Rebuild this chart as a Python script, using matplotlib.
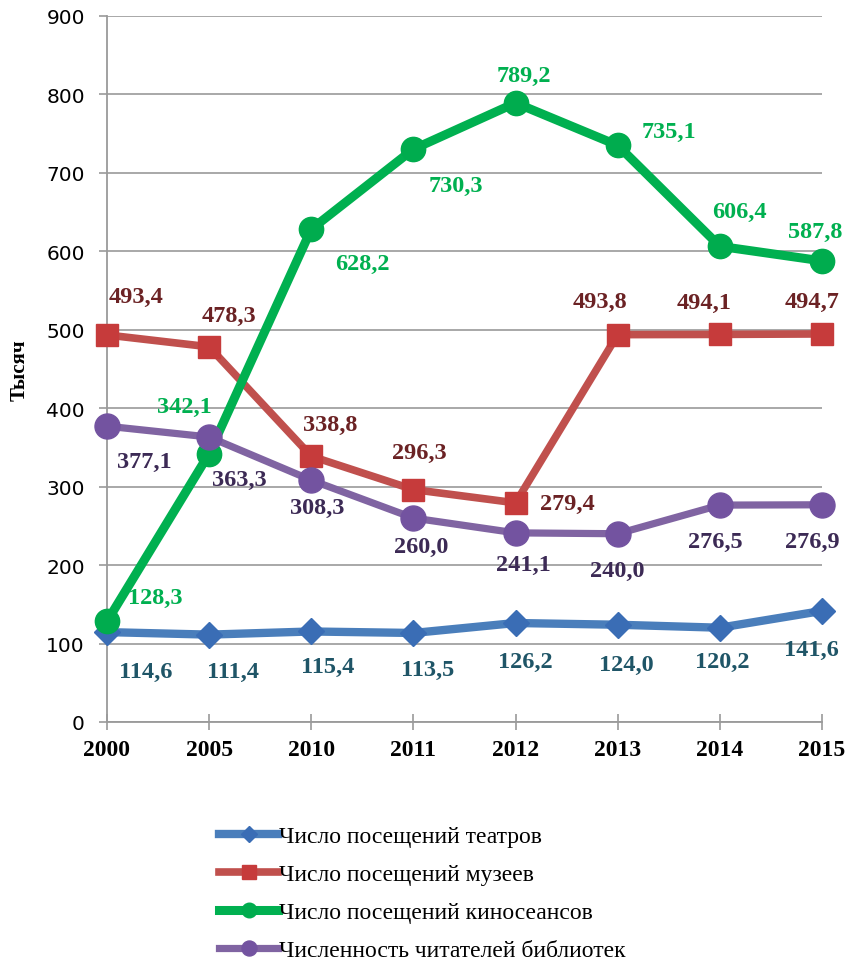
import numpy as np
import matplotlib.pyplot as plt
from matplotlib import rc

rc('font', family='DejaVu Sans')

years = ['2000', '2005', '2010', '2011', '2012', '2013', '2014', '2015']
theatres = [114.6, 111.4, 115.4, 113.5, 126.2, 124.0, 120.2, 141.6]
museums = [493.4, 478.3, 338.8, 296.3, 279.4, 493.8, 494.1, 494.7]
cinema = [128.3, 342.1, 628.2, 730.3, 789.2, 735.1, 606.4, 587.8]
libraries = [377.1, 363.3, 308.3, 260.0, 241.1, 240.0, 276.5, 276.9]
names = ['Число посещений театров', 'Число посещений музеев',
         'Число посещений киносеансов', 'Численность читателей библиотек']

# label offsets in pixels (dx, dy)
off_th = [(39, -39), (24, -37), (16, -35), (14, -36), (10, -38), (9, -40), (2, -34), (-11, -39)]
off_mu = [(29, 39), (20, 31), (19, 32), (6, 37), (52, -1), (-18, 33), (-16, 32), (-10, 32)]
off_ci = [(48, 24), (-25, 47), (51, -34), (42, -36), (8, 27), (51, 14), (20, 35), (-7, 29)]
off_li = [(37, -35), (30, -42), (6, -27), (8, -28), (8, -32), (0, -37), (-5, -36), (-10, -37)]

series = [
    (theatres, 'D', 13.7, 6.0, '#4A7EBB', '#3A6DB5', '#1F5567', off_th),
    (museums, 's', 16.5, 5.5, '#C0504D', '#C63B3B', '#6B2224', off_mu),
    (cinema, 'o', 17.5, 6.5, '#00B050', '#00AC4E', '#00B050', off_ci),
    (libraries, 'o', 18.0, 5.2, '#8064A2', '#7353A0', '#3C2A55', off_li),
]

fig = plt.figure(figsize=(8.53, 9.62), dpi=100)
ax = fig.add_axes([107 / 853, 1 - 723 / 962, (822 - 107) / 853, (723 - 17) / 962])
x = np.arange(len(years))

for (vals, mk, ms, lw, lc, mc, tc, offs), name in zip(series, names):
    ax.plot(x, vals, color=lc, lw=lw, marker=mk, ms=ms, mfc=mc, mec=mc,
            label=name, clip_on=False, zorder=3)
    for xi, v, (dx, dy) in zip(x, vals, offs):
        ax.annotate(f'{v:.1f}'.replace('.', ','), (xi, v), xytext=(dx, dy),
                    textcoords='offset pixels', ha='center', va='center',
                    fontsize=17.5, fontweight='bold', family='Liberation Serif',
                    color=tc, zorder=5)

ax.set_xlim(0, 7)
ax.set_ylim(0, 900)
ax.set_yticks(np.arange(0, 901, 100))
ax.set_xticks(x)
ax.set_xticklabels(years, fontsize=17, fontweight='bold', family='Liberation Serif')
ax.tick_params(axis='y', labelsize=14.5, length=6, width=1.2, color='#9A9A9A', pad=10)
ax.tick_params(axis='x', direction='inout', length=12, width=1.2, color='#9A9A9A', pad=6)
ax.grid(axis='y', color='#9A9A9A', lw=1.2)
ax.set_axisbelow(True)
for s in ['top', 'right']:
    ax.spines[s].set_visible(False)
for s in ['left', 'bottom']:
    ax.spines[s].set_color('#9A9A9A')
    ax.spines[s].set_linewidth(1.3)
ax.set_ylabel('Тысяч', fontsize=15, fontweight='bold', family='Liberation Serif', labelpad=12)

fig.legend(loc='upper left', bbox_to_anchor=(198 / 853, 1 - 805 / 962), frameon=False,
           prop={'family': 'Liberation Serif', 'size': 17}, handlelength=2.5,
           handletextpad=0.05, labelspacing=0.7, markerscale=0.6)

fig.savefig('out.png', dpi=100)
